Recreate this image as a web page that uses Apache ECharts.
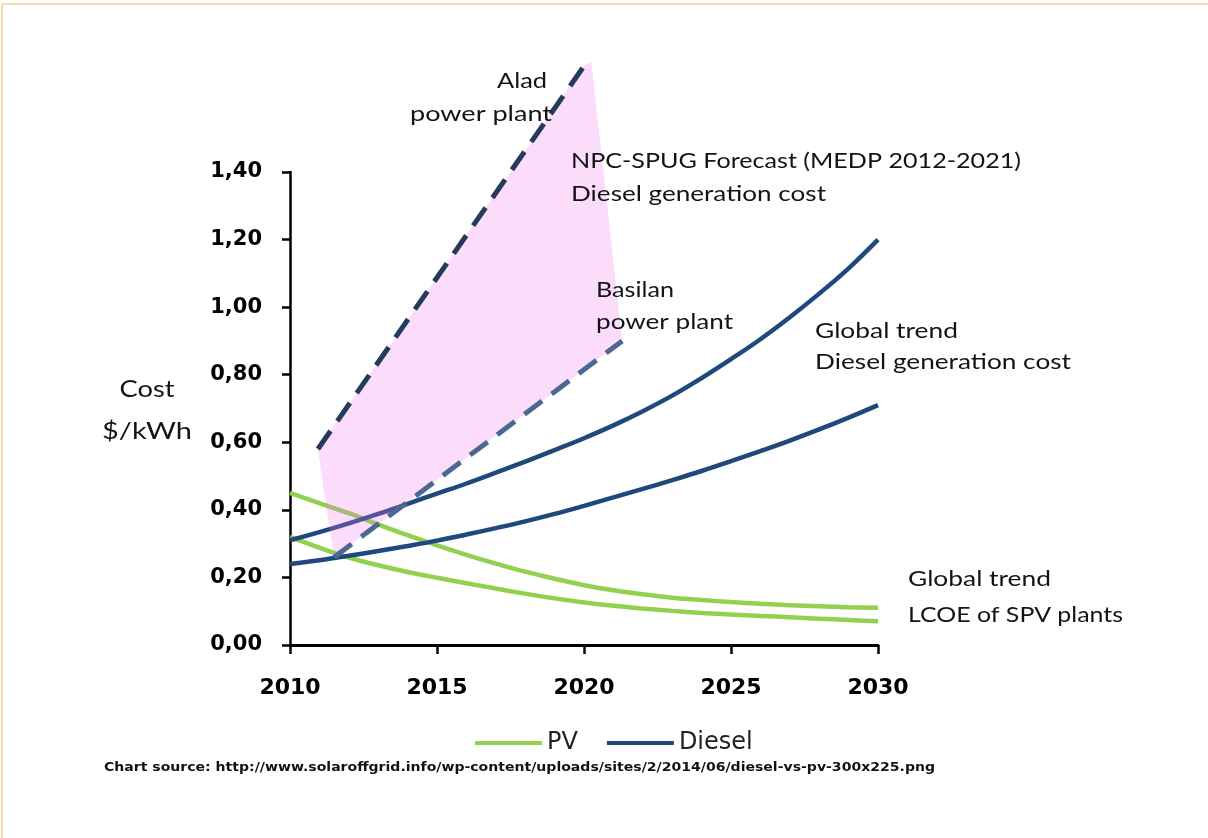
<!DOCTYPE html>
<html>
<head>
<meta charset="utf-8">
<title>Diesel vs PV generation cost</title>
<script src="https://cdn.jsdelivr.net/npm/echarts@6/dist/echarts.min.js"></script>
<style>
  html, body { margin: 0; padding: 0; background: #ffffff; }
  #chart { width: 1208px; height: 838px; }
</style>
</head>
<body>
<div id="chart"></div>
<script>
// Years on the horizontal axis
const years = [2010, 2011, 2012, 2013, 2014, 2015, 2016, 2017, 2018, 2019, 2020,
               2021, 2022, 2023, 2024, 2025, 2026, 2027, 2028, 2029, 2030];

// Global trend, LCOE of SPV plants ($/kWh), high and low bounds
const pvHigh = [0.45, 0.42, 0.39, 0.357, 0.325, 0.295, 0.267, 0.241, 0.217, 0.196, 0.177,
                0.162, 0.15, 0.14, 0.133, 0.127, 0.122, 0.118, 0.115, 0.112, 0.11];
const pvLow = [0.32, 0.288, 0.259, 0.236, 0.216, 0.199, 0.183, 0.167, 0.152, 0.138, 0.126,
               0.116, 0.108, 0.101, 0.095, 0.09, 0.086, 0.082, 0.078, 0.074, 0.07];

// Global trend, diesel generation cost ($/kWh), high and low bounds
const dieselHigh = [0.31, 0.334, 0.36, 0.388, 0.418, 0.448, 0.478, 0.51, 0.543, 0.577, 0.612,
                    0.65, 0.692, 0.738, 0.79, 0.846, 0.905, 0.97, 1.04, 1.115, 1.2];
const dieselLow = [0.24, 0.251, 0.264, 0.278, 0.293, 0.309, 0.327, 0.346, 0.366, 0.388, 0.412,
                   0.437, 0.462, 0.488, 0.515, 0.544, 0.574, 0.605, 0.638, 0.673, 0.71];

// NPC-SPUG forecast (MEDP 2012-2021) for two power plants
const aladYears = [2010.95, 2020.05];
const aladCost = [0.58, 1.72];
const basilanYears = [2011.5, 2021.3];
const basilanCost = [0.26, 0.9];

// Outline of the forecast band between the two plants
const bandYears = [2010.95, 2020.05, 2020.25, 2021.3, 2011.5, 2011.25];
const bandCost = [0.58, 1.72, 1.725, 0.9, 0.26, 0.4];

// Legend entries
const legendNames = ['PV', 'Diesel'];

const pairs = (xs, ys) => xs.map((x, i) => [x, ys[i]]);

// Scale a text horizontally so that it spans the wanted width
const measureCtx = document.createElement('canvas').getContext('2d');
function note(text, x, y, opts) {
  const size = opts.size || 21;
  const family = opts.family || 'Lato';
  const weight = opts.weight || 'normal';
  const font = weight + ' ' + size + 'px ' + family;
  measureCtx.font = font;
  const natural = measureCtx.measureText(text).width;
  return {
    type: 'text',
    x: x,
    y: y,
    scaleX: opts.width ? opts.width / natural : 1,
    z: 50,
    style: {
      text: text,
      font: font,
      fill: opts.color || '#141414',
      align: opts.align || 'left',
      textAlign: opts.align || 'left',
      verticalAlign: 'middle',
      textVerticalAlign: 'middle'
    }
  };
}

const GREEN = '#92D050';
const NAVY = '#1F497D';

const chart = echarts.init(document.getElementById('chart'), null, { renderer: 'canvas' });

const solidLine = (name, values, color) => ({
  name: name,
  type: 'line',
  data: pairs(years, values),
  smooth: 0.4,
  symbol: 'none',
  color: color,
  itemStyle: { color: color },
  lineStyle: { color: color, width: 4.5 },
  z: 2,
  silent: true
});

const dashedLine = (name, xs, ys, color) => ({
  name: name,
  type: 'line',
  data: pairs(xs, ys),
  symbol: 'none',
  clip: false,
  color: color,
  lineStyle: { color: color, width: 5, type: [22, 12], cap: 'butt' },
  z: 4,
  silent: true
});

chart.setOption({
  animation: false,
  backgroundColor: '#ffffff',
  grid: { left: 290, right: 330, top: 172, bottom: 193 },
  xAxis: {
    type: 'value',
    min: 2010,
    max: 2030,
    interval: 5,
    axisLine: { show: true, onZero: true, lineStyle: { color: '#000', width: 3 } },
    axisTick: { show: true, length: 9, lineStyle: { color: '#000', width: 2.5 } },
    splitLine: { show: false },
    axisLabel: {
      margin: 32,
      color: '#000',
      fontFamily: 'DejaVu Sans',
      fontWeight: 'bold',
      fontSize: 22,
      formatter: v => String(v)
    }
  },
  yAxis: {
    type: 'value',
    min: 0,
    max: 1.4,
    interval: 0.2,
    axisLine: { show: true, lineStyle: { color: '#000', width: 2.5 } },
    axisTick: { show: true, length: 8, lineStyle: { color: '#000', width: 2.5 } },
    splitLine: { show: false },
    axisLabel: {
      margin: 28,
      color: '#000',
      fontFamily: 'DejaVu Sans',
      fontWeight: 'bold',
      fontSize: 21,
      formatter: v => v.toFixed(2).replace('.', ',')
    }
  },
  legend: {
    data: legendNames,
    left: 470,
    top: 726,
    icon: 'rect',
    itemWidth: 67,
    itemHeight: 4,
    itemGap: 29,
    selectedMode: false,
    textStyle: { fontFamily: 'DejaVu Sans', fontSize: 24, color: '#222' }
  },
  series: [
    solidLine('PV', pvHigh, GREEN),
    solidLine('PV', pvLow, GREEN),
    solidLine('Diesel', dieselHigh, NAVY),
    solidLine('Diesel', dieselLow, NAVY),
    {
      name: 'Forecast band',
      type: 'custom',
      data: pairs(bandYears, bandCost),
      clip: false,
      z: 3,
      silent: true,
      renderItem: (params, api) => {
        if (params.dataIndex !== 0) return null;
        const points = bandYears.map((x, i) => api.coord([x, bandCost[i]]));
        return {
          type: 'polygon',
          shape: { points: points },
          style: { fill: 'rgba(240,120,240,0.25)' }
        };
      }
    },
    dashedLine('Alad', aladYears, aladCost, '#243B5C'),
    dashedLine('Basilan', basilanYears, basilanCost, '#4A6892')
  ],
  graphic: [
    // thin frame along the top and left edges
    { type: 'line', shape: { x1: 2, y1: 4, x2: 1208, y2: 4 }, style: { stroke: '#F5D08F', lineWidth: 1.5 } },
    { type: 'line', shape: { x1: 2, y1: 4, x2: 2, y2: 838 }, style: { stroke: '#F5D08F', lineWidth: 1.5 } },

    note('Alad', 547, 81, { width: 50, align: 'right' }),
    note('power plant', 552, 114, { width: 142, align: 'right' }),
    note('NPC-SPUG Forecast (MEDP 2012-2021)', 571, 161, { width: 450 }),
    note('Diesel generation cost', 571, 194, { width: 255 }),
    note('Basilan', 596, 290, { width: 78 }),
    note('power plant', 596, 322, { width: 137 }),
    note('Global trend', 815, 331, { width: 143 }),
    note('Diesel generation cost', 815, 362, { width: 256 }),
    note('Global trend', 908, 579, { width: 143 }),
    note('LCOE of SPV plants', 908, 615, { width: 215 }),
    note('Cost', 147, 390, { width: 55, size: 23, align: 'center' }),
    note('$/kWh', 147, 432, { width: 90, size: 23, align: 'center' }),
    note('Chart source: http://www.solaroffgrid.info/wp-content/uploads/sites/2/2014/06/diesel-vs-pv-300x225.png',
         104, 768, { width: 831, size: 13, family: 'DejaVu Sans', weight: 'bold', color: '#111' })
  ]
});
</script>
</body>
</html>
